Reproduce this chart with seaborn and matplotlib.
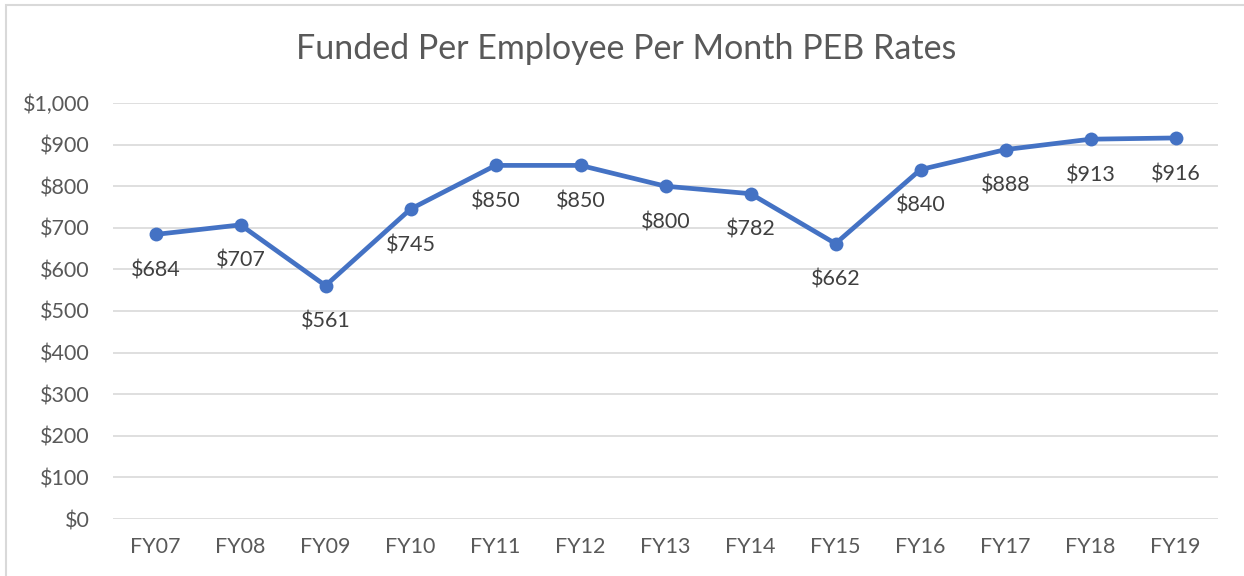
import matplotlib.pyplot as plt
import matplotlib.patches as mpatches
import seaborn as sns
import pandas as pd

years = ["FY07", "FY08", "FY09", "FY10", "FY11", "FY12", "FY13",
         "FY14", "FY15", "FY16", "FY17", "FY18", "FY19"]
rates = [684, 707, 561, 745, 850, 850, 800, 782, 662, 840, 888, 913, 916]
y_ticks = [0, 100, 200, 300, 400, 500, 600, 700, 800, 900, 1000]

sns.set_theme(style="white")
plt.rcParams["font.family"] = ["Lato", "DejaVu Sans"]

text_color = "#595959"
line_color = "#4472C4"

df = pd.DataFrame({"year": years, "rate": rates})
df["pos"] = range(len(years))

fig = plt.figure(figsize=(12.44, 5.76), dpi=100)
ax = fig.add_axes([113 / 1244, 1 - 519 / 576, (1218 - 113) / 1244, (519 - 103) / 576])

sns.lineplot(data=df, x="pos", y="rate", ax=ax, color=line_color,
             linewidth=3.4, marker="o", markersize=10, markeredgewidth=0)

for x, y in zip(df["pos"], df["rate"]):
    ax.annotate(f"${y:,}", (x, y), xytext=(0, -26), textcoords="offset points",
                ha="center", va="center", fontsize=15.5, color="#404040")

ax.set_xlim(-0.5, len(years) - 0.5)
ax.set_ylim(0, 1000)
ax.set_xticks(df["pos"])
ax.set_xticklabels(years)
ax.set_yticks(y_ticks)
ax.set_yticklabels([f"${v:,}" for v in y_ticks])
ax.tick_params(axis="both", labelsize=15.5, colors=text_color, length=0)
ax.tick_params(axis="x", pad=13)
ax.tick_params(axis="y", pad=17)
ax.grid(axis="y", color="#D9D9D9", linewidth=1.2)
ax.set_axisbelow(True)
for s in ax.spines.values():
    s.set_visible(False)
ax.set_xlabel("")
ax.set_ylabel("")

fig.text(626 / 1244, 1 - 49 / 576, "Funded Per Employee Per Month PEB Rates",
         ha="center", va="center", fontsize=24.5, color=text_color)

fig.patches.append(mpatches.Rectangle((6 / 1244, -0.05), 1.1, 1.05 - 5 / 576,
                                      transform=fig.transFigure, fill=False,
                                      edgecolor="#D9D9D9", linewidth=1.5))

fig.savefig("out.png", dpi=100)
